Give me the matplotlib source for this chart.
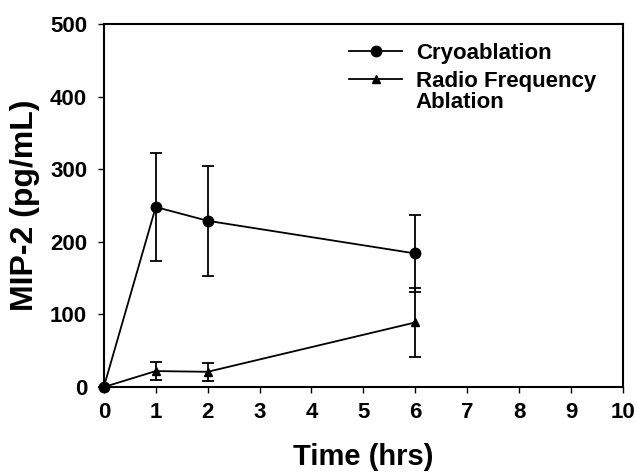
import matplotlib
matplotlib.use("Agg")
import matplotlib.pyplot as plt

plt.rcParams['font.family'] = ['Liberation Sans', 'DejaVu Sans']
plt.rcParams['font.weight'] = 'bold'

time = [0, 1, 2, 6]
cryo = [0, 248, 229, 184]
cryo_err = [0, 74, 76, 53]
rfa = [0, 22, 21, 89]
rfa_err = [0, 12, 12, 48]
xticks = list(range(0, 11))
yticks = [0, 100, 200, 300, 400, 500]

fig = plt.figure(figsize=(6.37, 4.72), dpi=100)
ax = fig.add_axes([0.163, 0.18, 0.815, 0.769])

lw = 1.3
ax.errorbar(time, cryo, yerr=cryo_err, fmt='none', ecolor='black',
            elinewidth=lw, capsize=4, capthick=lw, clip_on=False, zorder=2)
ax.errorbar(time, rfa, yerr=rfa_err, fmt='none', ecolor='black',
            elinewidth=lw, capsize=4, capthick=lw, clip_on=False, zorder=2)
ax.plot(time, cryo, color='black', marker='o', markersize=7.5, linewidth=lw,
        label='Cryoablation', clip_on=False, zorder=3)
ax.plot(time, rfa, color='black', marker='^', markersize=6, linewidth=lw,
        label='Radio Frequency', clip_on=False, zorder=3)

ax.set_xlim(0, 10)
ax.set_ylim(0, 500)
ax.set_xticks(xticks)
ax.set_yticks(yticks)
ax.tick_params(axis='both', labelsize=16, width=1, length=4, direction='out')
ax.tick_params(axis='x', pad=7)
ax.tick_params(axis='y', pad=8)
for lab in ax.get_xticklabels() + ax.get_yticklabels():
    lab.set_fontweight('bold')
for s in ax.spines.values():
    s.set_linewidth(1.5)

ax.set_xlabel('Time (hrs)', fontsize=21, fontweight='bold')
ax.set_ylabel('MIP-2 (pg/mL)', fontsize=23, fontweight='bold')
ax.xaxis.set_label_coords(0.5, -0.155)
ax.yaxis.set_label_coords(-0.122, 0.5)

leg = ax.legend(loc='upper left', bbox_to_anchor=(0.472, 0.948), frameon=False,
                handlelength=2.4, handletextpad=0.64, borderpad=0,
                borderaxespad=0, labelspacing=0.32,
                prop={'weight': 'bold', 'size': 16})
ax.text(0.601, 0.783, 'Ablation', transform=ax.transAxes, fontsize=16,
        fontweight='bold', ha='left', va='center')

fig.savefig('out.png', dpi=100)
